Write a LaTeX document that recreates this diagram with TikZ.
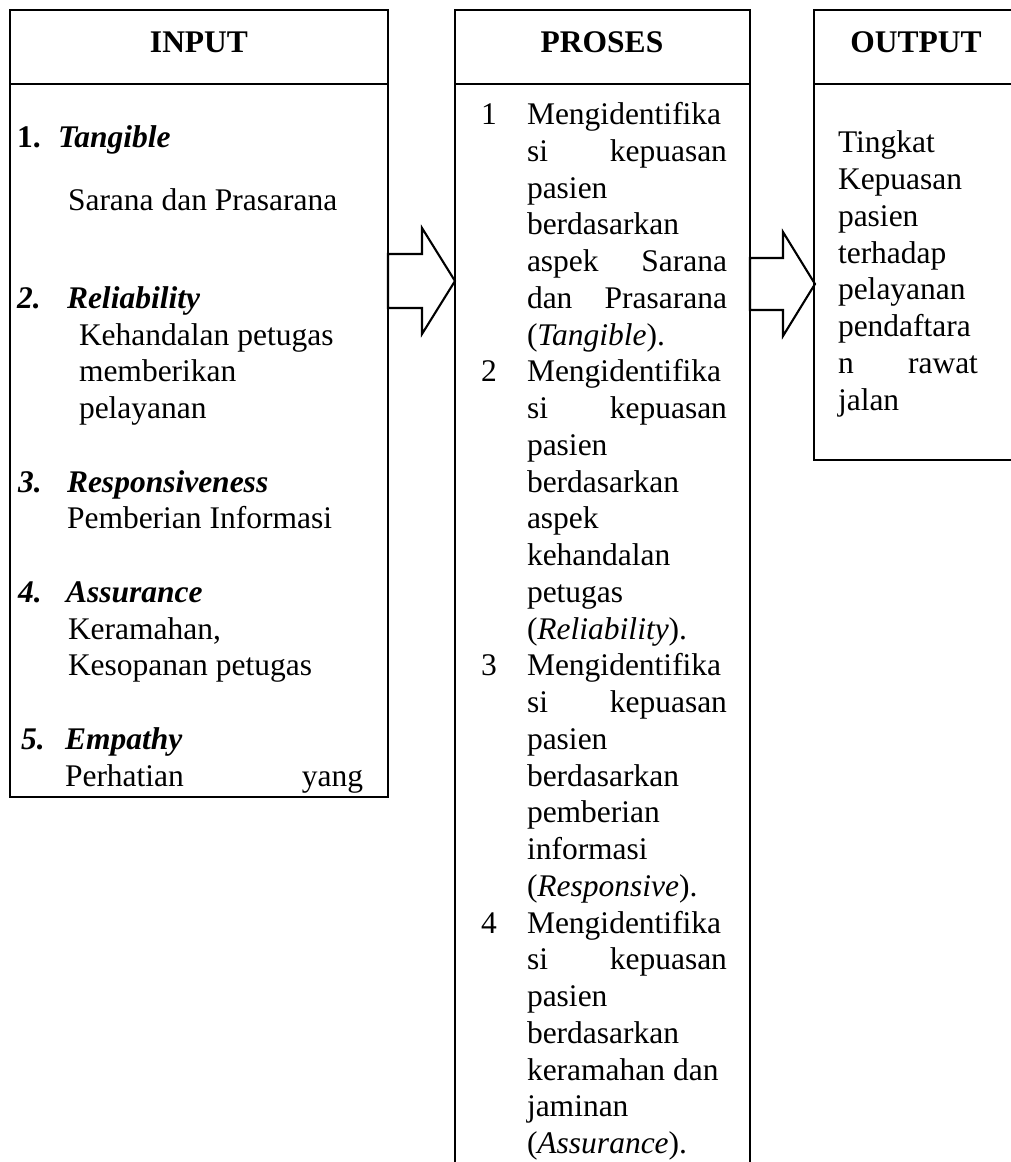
\documentclass[tikz,border=0pt]{standalone}
\usepackage{fontspec}
\setmainfont{Liberation Serif}
\usetikzlibrary{calc}
\begin{document}
\begin{tikzpicture}[x=1pt,y=-1pt,
  frame/.style={line width=2.9pt},
  blockarrow/.style={line width=2.1pt, line join=miter, draw=black},
  txt/.style={anchor=base west, inner sep=0pt, outer sep=0pt, font=\fontsize{31.5}{36.75}\selectfont},
  hdr/.style={anchor=base, inner sep=0pt, font=\fontsize{31.5}{36.75}\selectfont\bfseries},
  lbl/.style={txt, font=\fontsize{31.5}{36.75}\selectfont\bfseries\itshape}]
\useasboundingbox (0,0) rectangle (1011,1162);

% ---------- frames ----------
% INPUT
\draw[frame] (10,10) rectangle (388,797);
\draw[frame] (10,84) -- (388,84);
% PROSES (open at the bottom)
\draw[frame] (455,1162) -- (455,10) -- (750,10) -- (750,1162);
\draw[frame] (455,84) -- (750,84);
% OUTPUT (right side cut by the page)
\draw[frame] (1011,10) -- (814,10) -- (814,460) -- (1011,460);
\draw[frame] (814,84) -- (1011,84);

% ---------- headers ----------
\node[hdr] (hIn)  at (199,52) {INPUT};
\node[hdr] (hPro) at (602,52) {PROSES};
\node[hdr] (hOut) at (916,52) {OUTPUT};

% ---------- block arrows ----------
\coordinate (inE)  at (388,281);
\coordinate (prW)  at (455,281);
\coordinate (prE)  at (750,284);
\coordinate (outW) at (815,284);
\draw[blockarrow] ($(inE)+(0,-27)$) -- ($(prW)+(-33,-27)$) -- ($(prW)+(-33,-53)$) -- (prW)
  -- ($(prW)+(-33,53)$) -- ($(prW)+(-33,27)$) -- ($(inE)+(0,27)$) -- cycle;
\draw[blockarrow] ($(prE)+(0,-26)$) -- ($(outW)+(-32,-26)$) -- ($(outW)+(-32,-52)$) -- (outW)
  -- ($(outW)+(-32,52)$) -- ($(outW)+(-32,26)$) -- ($(prE)+(0,26)$) -- cycle;

% ---------- INPUT text ----------
\node[txt] (in1n) at (17,147) {\textbf{1.}};
\node[lbl] (in1t) at (58,147) {Tangible};
\node[txt] (in1d) at (68,210) {Sarana dan Prasarana};

\node[lbl] (in2n) at (17,308.25) {2.};
\node[lbl] (in2t) at (67,308.25) {Reliability};
\node[txt] (in2a) at (79,345) {Kehandalan petugas};
\node[txt] (in2b) at (79,381.75) {memberikan};
\node[txt] (in2c) at (79,418.5) {pelayanan};

\node[lbl] (in3n) at (18,492) {3.};
\node[lbl] (in3t) at (67,492) {Responsiveness};
\node[txt] (in3a) at (67,528.75) {Pemberian Informasi};

\node[lbl] (in4n) at (18,602.25) {4.};
\node[lbl] (in4t) at (66,602.25) {Assurance};
\node[txt] (in4a) at (68,639) {Keramahan,};
\node[txt] (in4b) at (68,675.75) {Kesopanan petugas};

\node[lbl] (in5n) at (21,749.25) {5.};
\node[lbl] (in5t) at (65,749.25) {Empathy};
\node[txt] (in5a) at (65,786) {\hbox to 298pt{Perhatian\hfill yang}};

% ---------- PROSES text ----------
\newcommand{\py}[1]{{124.5+36.75*#1}}
\node[txt] (p1n) at (481,\py{0}) {1};
\node[txt] (p1a) at (527,\py{0}) {Mengidentifika};
\node[txt] (p1b) at (527,\py{1}) {\hbox to 200pt{si\hfill kepuasan}};
\node[txt] (p1c) at (527,\py{2}) {pasien};
\node[txt] (p1d) at (527,\py{3}) {berdasarkan};
\node[txt] (p1e) at (527,\py{4}) {\hbox to 200pt{aspek\hfill Sarana}};
\node[txt] (p1f) at (527,\py{5}) {\hbox to 200pt{dan\hfill Prasarana}};
\node[txt] (p1g) at (527,\py{6}) {(\textit{Tangible}).};

\node[txt] (p2n) at (481,\py{7}) {2};
\node[txt] (p2a) at (527,\py{7}) {Mengidentifika};
\node[txt] (p2b) at (527,\py{8}) {\hbox to 200pt{si\hfill kepuasan}};
\node[txt] (p2c) at (527,\py{9}) {pasien};
\node[txt] (p2d) at (527,\py{10}) {berdasarkan};
\node[txt] (p2e) at (527,\py{11}) {aspek};
\node[txt] (p2f) at (527,\py{12}) {kehandalan};
\node[txt] (p2g) at (527,\py{13}) {petugas};
\node[txt] (p2h) at (527,\py{14}) {(\textit{Reliability}).};

\node[txt] (p3n) at (481,\py{15}) {3};
\node[txt] (p3a) at (527,\py{15}) {Mengidentifika};
\node[txt] (p3b) at (527,\py{16}) {\hbox to 200pt{si\hfill kepuasan}};
\node[txt] (p3c) at (527,\py{17}) {pasien};
\node[txt] (p3d) at (527,\py{18}) {berdasarkan};
\node[txt] (p3e) at (527,\py{19}) {pemberian};
\node[txt] (p3f) at (527,\py{20}) {informasi};
\node[txt] (p3g) at (527,\py{21}) {(\textit{Responsive}).};

\node[txt] (p4n) at (481,\py{22}) {4};
\node[txt] (p4a) at (527,\py{22}) {Mengidentifika};
\node[txt] (p4b) at (527,\py{23}) {\hbox to 200pt{si\hfill kepuasan}};
\node[txt] (p4c) at (527,\py{24}) {pasien};
\node[txt] (p4d) at (527,\py{25}) {berdasarkan};
\node[txt] (p4e) at (527,\py{26}) {keramahan dan};
\node[txt] (p4f) at (527,\py{27}) {jaminan};
\node[txt] (p4g) at (527,\py{28}) {(\textit{Assurance}).};

% ---------- OUTPUT text ----------
\newcommand{\oy}[1]{{152.75+36.75*#1}}
\node[txt] (o1) at (838,\oy{0}) {Tingkat};
\node[txt] (o2) at (838,\oy{1}) {Kepuasan};
\node[txt] (o3) at (838,\oy{2}) {pasien};
\node[txt] (o4) at (838,\oy{3}) {terhadap};
\node[txt] (o5) at (838,\oy{4}) {pelayanan};
\node[txt] (o6) at (838,\oy{5}) {pendaftara};
\node[txt] (o7) at (838,\oy{6}) {\hbox to 140pt{n\hfill rawat}};
\node[txt] (o8) at (838,\oy{7}) {jalan};
\end{tikzpicture}
\end{document}
